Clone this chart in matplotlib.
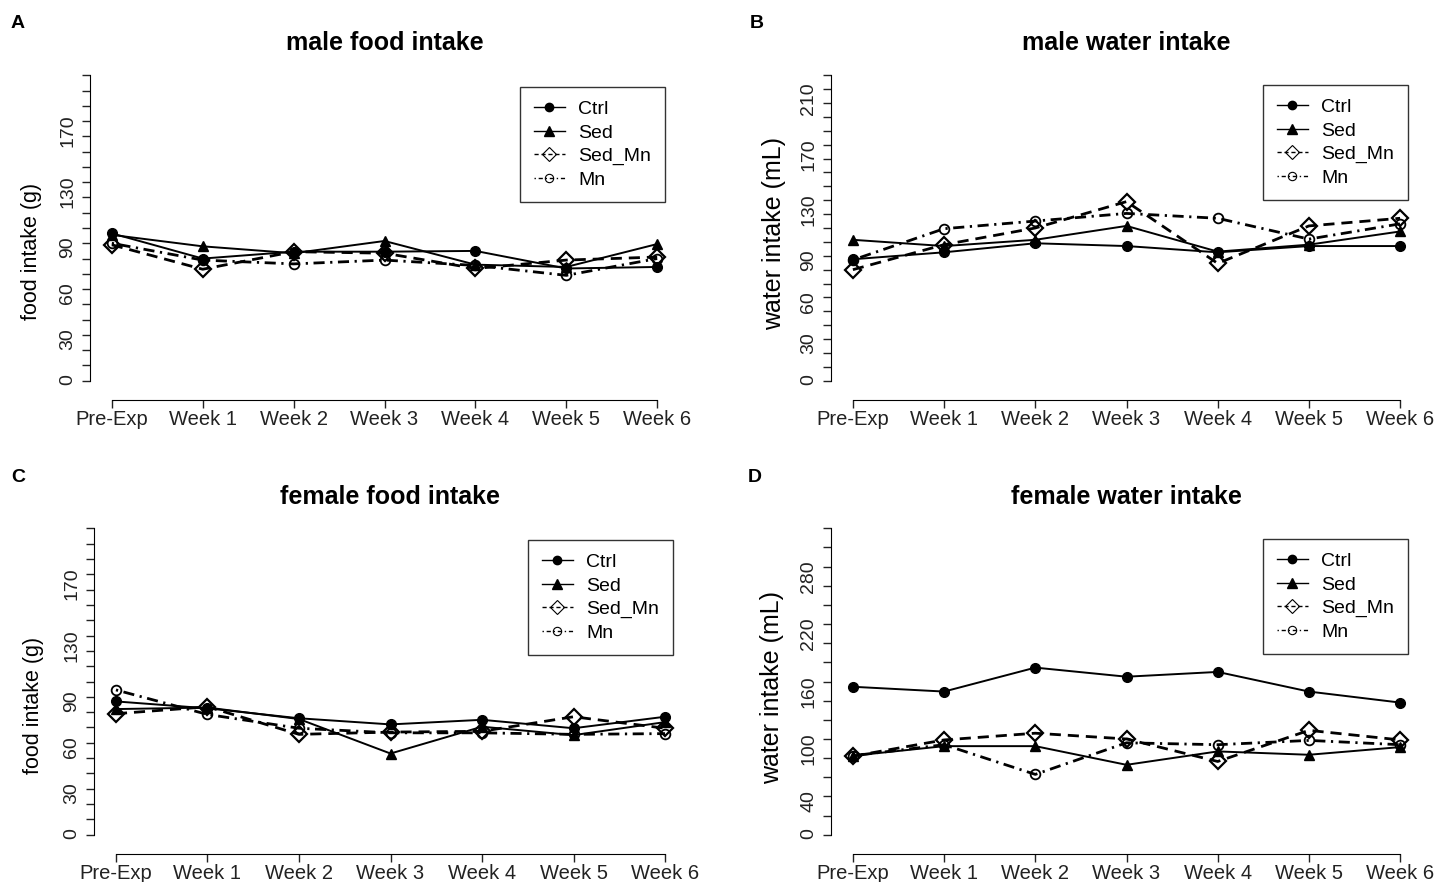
import numpy as np
import matplotlib
matplotlib.use('Agg')
import matplotlib.pyplot as plt
from matplotlib.lines import Line2D

plt.rcParams['font.family'] = ['Liberation Sans', 'DejaVu Sans']

weeks = ['Pre-Exp', 'Week 1', 'Week 2', 'Week 3', 'Week 4', 'Week 5', 'Week 6']
groups = ['Ctrl', 'Sed', 'Sed_Mn', 'Mn']

# A - male food intake (g)
male_food_ctrl = [96.5, 80, 84.5, 84.5, 85, 73.5, 74.5]
male_food_sed = [95.5, 88, 83.5, 91.5, 76, 74.5, 89.5]
male_food_sedmn = [89, 73, 84.5, 83.5, 73.5, 79, 81]
male_food_mn = [90, 79, 76.5, 79, 75.5, 69, 80]

# B - male water intake (mL)
male_water_ctrl = [87.5, 92.5, 99, 97, 92.5, 97, 97]
male_water_sed = [101.5, 97, 101.5, 111.5, 93, 98, 107.5]
male_water_sedmn = [80, 98, 110, 129, 84.5, 111.5, 117]
male_water_mn = [87, 109.5, 115, 120.5, 117, 102, 113]

# C - female food intake (g)
female_food_ctrl = [87, 82.5, 76, 72, 75, 69.5, 77]
female_food_sed = [82, 83, 75.5, 53, 70.5, 65, 73.5]
female_food_sedmn = [79, 83.5, 65.5, 67, 67.5, 77, 69.5]
female_food_mn = [94.5, 78.5, 69.5, 66.5, 66.5, 65.5, 66]

# D - female water intake (mL)
female_water_ctrl = [154.5, 149.5, 174.5, 165, 170, 149.5, 138]
female_water_sed = [82.5, 92.5, 92.5, 73, 87, 83.5, 91.5]
female_water_sedmn = [82, 99, 106, 100, 76.5, 109, 99]
female_water_mn = [82.5, 94, 63, 96, 94, 98.5, 94]

W, H = 1440, 882
fig = plt.figure(figsize=(W / 100, H / 100), dpi=100)

styles = [
    dict(color='black', lw=1.4, ls='-', marker='o', ms=7, mfc='black', mec='black'),
    dict(color='black', lw=1.4, ls='-', marker='^', ms=7.5, mfc='black', mec='black'),
    dict(color='black', lw=2, ls=(0, (4, 2.5)), marker='D', ms=8.5, mfc='none', mec='black', mew=1.6),
    dict(color='black', lw=2, ls=(0, (0.8, 2, 4, 2)), marker='o', ms=7, mfc='none', mec='black', mew=1.3),
]
leg_styles = [
    dict(color='black', lw=1, ls='-', marker='o', ms=6, mfc='black', mec='black'),
    dict(color='black', lw=1, ls='-', marker='^', ms=7, mfc='black', mec='black'),
    dict(color='black', lw=1, ls=(0, (3, 2)), marker='D', ms=7, mfc='none', mec='black', mew=0.8),
    dict(color='black', lw=1, ls=(0, (1, 2, 3, 2)), marker='o', ms=6, mfc='none', mec='black', mew=0.8),
]


def panel(rect, title, letter, letter_xy, ylabel, ylab_size, ylab_xy,
          series, ymax, step, shown, leg_xy):
    l, t, r, b = rect
    ax = fig.add_axes([l / W, 1 - b / H, (r - l) / W, (b - t) / H])
    x = np.arange(1, 8)
    for vals, st in zip(series, styles):
        ax.plot(x, vals, **st)
    ax.set_xlim(1 - 0.24, 7 + 0.24)
    ax.set_ylim(-0.04 * ymax, 1.04 * ymax)
    for s in ['top', 'right']:
        ax.spines[s].set_visible(False)
    ax.spines['left'].set_bounds(0, ymax)
    ax.spines['bottom'].set_bounds(1, 7)
    ax.spines['bottom'].set_position(('outward', 5))
    ticks = np.arange(0, ymax + 1, step)
    ax.set_yticks(ticks)
    ax.set_yticklabels([str(v) if v in shown else '' for v in ticks])
    ax.set_xticks(x)
    ax.set_xticklabels(weeks)
    ax.tick_params(axis='x', labelsize=14.5, length=6, width=1, pad=1, colors='#222222')
    ax.tick_params(axis='y', labelsize=14, length=6, width=1, pad=4,
                   labelrotation=90, colors='#222222')
    ax.set_ylabel(ylabel, fontsize=ylab_size)
    ax.yaxis.set_label_coords(*ylab_xy)
    ax.set_title(title, fontsize=18, fontweight='bold', pad=9)
    fig.text(letter_xy[0] / W, 1 - letter_xy[1] / H, letter, fontsize=14,
             fontweight='bold', ha='left', va='center')
    handles = [Line2D([], [], **st) for st in leg_styles]
    leg = ax.legend(handles, groups, loc='upper left',
                    bbox_to_anchor=(leg_xy[0] / W, 1 - leg_xy[1] / H),
                    bbox_transform=fig.transFigure, borderaxespad=0,
                    fontsize=14, frameon=True, fancybox=False, framealpha=1,
                    edgecolor='#333333', handlelength=1.6, handletextpad=0.7,
                    labelspacing=0.3, borderpad=0.7)
    leg.get_frame().set_linewidth(1)
    return ax


panel((90, 63, 679, 393), 'male food intake', 'A', (11, 24), 'food intake (g)', 15.5,
      (-0.082, 0.43),
      [male_food_ctrl, male_food_sed, male_food_sedmn, male_food_mn],
      200, 10, [0, 30, 60, 90, 130, 170], (520, 87))
panel((831, 63, 1422, 393), 'male water intake', 'B', (750, 24), 'water intake (mL)', 18,
      (-0.0765, 0.482),
      [male_water_ctrl, male_water_sed, male_water_sedmn, male_water_mn],
      220, 10, [0, 30, 60, 90, 130, 170, 210], (1263, 85))
panel((94, 516, 687, 847), 'female food intake', 'C', (11, 478), 'food intake (g)', 15.5,
      (-0.085, 0.429),
      [female_food_ctrl, female_food_sed, female_food_sedmn, female_food_mn],
      200, 10, [0, 30, 60, 90, 130, 170], (528, 540))
panel((831, 516, 1422, 847), 'female water intake', 'D', (748, 478), 'water intake (mL)', 18,
      (-0.08, 0.483),
      [female_water_ctrl, female_water_sed, female_water_sedmn, female_water_mn],
      320, 20, [0, 40, 100, 160, 220, 280], (1263, 539))

fig.savefig('out.png', dpi=100)
